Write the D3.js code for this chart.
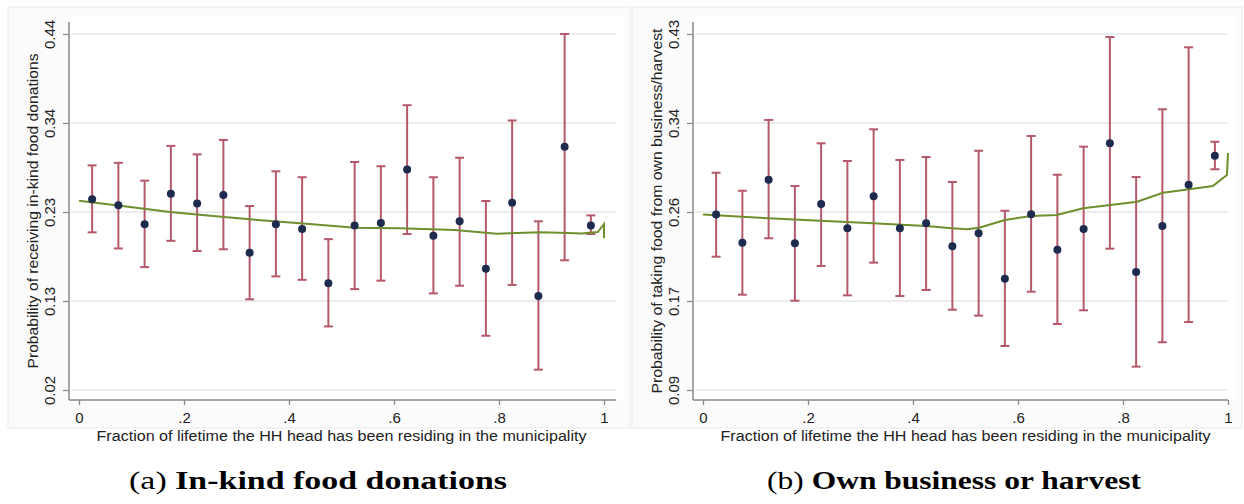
<!DOCTYPE html>
<html>
<head>
<meta charset="utf-8">
<script src="https://cdn.jsdelivr.net/npm/d3@7"></script>
<style>
  body { margin: 0; background: #fff; }
  svg { display: block; }
</style>
</head>
<body>
<div class="svg-container"></div>
<script>
// bin midpoints (fraction of lifetime)
const binMid = [0.025, 0.075, 0.125, 0.175, 0.225, 0.275, 0.325, 0.375, 0.425, 0.475,
  0.525, 0.575, 0.625, 0.675, 0.725, 0.775, 0.825, 0.875, 0.925, 0.975];

// panel (a): in-kind food donations
const leftPoint = [0.245, 0.238, 0.2155, 0.2516, 0.240, 0.250, 0.182, 0.2155, 0.210, 0.146,
  0.214, 0.217, 0.280, 0.202, 0.219, 0.163, 0.241, 0.131, 0.307, 0.214];
const leftUpper = [0.285, 0.288, 0.267, 0.308, 0.298, 0.315, 0.237, 0.278, 0.271, 0.198,
  0.289, 0.284, 0.356, 0.271, 0.294, 0.243, 0.338, 0.219, 0.440, 0.226];
const leftLower = [0.206, 0.187, 0.165, 0.196, 0.184, 0.186, 0.127, 0.154, 0.150, 0.095,
  0.139, 0.149, 0.204, 0.134, 0.143, 0.084, 0.144, 0.044, 0.173, 0.204];
const leftFitX = [0, 0.09, 0.173, 0.25, 0.325, 0.421, 0.526, 0.61, 0.716, 0.796, 0.82, 0.878, 0.916, 0.958, 0.988, 1.0, 1.0];
const leftFitY = [0.2433, 0.2365, 0.230, 0.2255, 0.2214, 0.2167, 0.2115, 0.2108, 0.2088, 0.2044, 0.2049, 0.2061, 0.2056, 0.2047, 0.2064, 0.2158, 0.1993];
const leftYTicks = [0.02, 0.125, 0.23, 0.335, 0.44];
const leftYLabels = ["0.02", "0.13", "0.23", "0.34", "0.44"];

// panel (b): own business or harvest
const rightPoint = [0.2576, 0.2307, 0.2908, 0.2301, 0.2676, 0.2444, 0.275, 0.2444, 0.2492, 0.2272,
  0.2397, 0.1963, 0.2578, 0.224, 0.2438, 0.3256, 0.2027, 0.2466, 0.2861, 0.3138];
const rightUpper = [0.2975, 0.2803, 0.3479, 0.2848, 0.3256, 0.3087, 0.339, 0.3097, 0.3125, 0.2887,
  0.3185, 0.2612, 0.3326, 0.2956, 0.3224, 0.4271, 0.2934, 0.3581, 0.4173, 0.3271];
const rightLower = [0.2173, 0.181, 0.2349, 0.1753, 0.2084, 0.1804, 0.2116, 0.1798, 0.1855, 0.1667,
  0.161, 0.132, 0.1839, 0.153, 0.1661, 0.225, 0.1123, 0.1356, 0.1549, 0.3008];
const rightFitX = [0, 0.125, 0.223, 0.324, 0.425, 0.474, 0.503, 0.526, 0.575, 0.625, 0.674, 0.724, 0.776, 0.827, 0.876, 0.926, 0.971, 0.998, 1.0];
const rightFitY = [0.2576, 0.254, 0.2517, 0.2492, 0.2466, 0.2444, 0.2435, 0.245, 0.2524, 0.2562, 0.2571, 0.2635, 0.2667, 0.2698, 0.2784, 0.2817, 0.2848, 0.2953, 0.3163];
const rightYTicks = [0.09, 0.175, 0.26, 0.345, 0.43];
const rightYLabels = ["0.09", "0.17", "0.26", "0.34", "0.43"];

const xTicks = [0, 0.2, 0.4, 0.6, 0.8, 1];
const xTickLabels = ["0", ".2", ".4", ".6", ".8", "1"];
const xTitle = "Fraction of lifetime the HH head has been residing in the municipality";

const width = 1244;
const height = 504;
const sans = 'Liberation Sans, Arial, sans-serif';

const svg = d3.select('.svg-container')
  .append('svg')
  .attr('width', width)
  .attr('height', height)

function drawPanel(cfg) {
  const g = svg.append('g');

  // outer graph region
  g.append('rect')
    .attr('x', cfg.box[0]).attr('y', 7)
    .attr('width', cfg.box[1] - cfg.box[0]).attr('height', 421)
    .attr('fill', '#fbfbfc')
    .attr('stroke', '#e9e9ec')

  g.append('rect')
    .attr('x', cfg.axisX).attr('y', 16)
    .attr('width', cfg.box[1] - cfg.axisX - 6).attr('height', 384)
    .attr('fill', '#fff')

  const x = d3.scaleLinear().domain([0, 1]).range(cfg.xRange);
  const y = d3.scaleLinear().domain(d3.extent(cfg.yTicks)).range([390, 34]);

  // gridlines
  g.selectAll('.grid')
    .data(cfg.yTicks)
    .enter()
    .append('line')
    .attr('x1', cfg.axisX + 2).attr('x2', cfg.box[1] - 14)
    .attr('y1', d => y(d)).attr('y2', d => y(d))
    .attr('stroke', '#ececec')
    .attr('stroke-width', 2)

  // y axis
  const yAxis = d3.axisLeft(y)
    .tickValues(cfg.yTicks)
    .tickSize(6)
    .tickFormat((d, i) => cfg.yLabels[i]);
  const ya = g.append('g')
    .attr('transform', `translate(${cfg.axisX},0)`)
    .call(yAxis);
  ya.select('.domain').attr('d', `M-0,22V400`).attr('stroke', '#8a8a8a').attr('stroke-width', 1.5);
  ya.selectAll('.tick line').attr('stroke', '#8a8a8a').attr('stroke-width', 1.3);
  ya.selectAll('.tick text')
    .attr('transform', 'rotate(-90)')
    .attr('x', 0).attr('y', -14)
    .attr('dy', 0)
    .attr('text-anchor', 'middle')
    .style('font-family', sans)
    .style('font-size', '15px')
    .attr('fill', '#222');

  // x axis
  const xAxis = d3.axisBottom(x)
    .tickValues(xTicks)
    .tickSize(5)
    .tickFormat((d, i) => xTickLabels[i]);
  const xa = g.append('g')
    .attr('transform', 'translate(0,400)')
    .call(xAxis);
  xa.select('.domain').attr('d', `M${cfg.axisX},0H${cfg.box[1] - 14}`).attr('stroke', '#8a8a8a').attr('stroke-width', 1.5);
  xa.selectAll('.tick line').attr('stroke', '#8a8a8a').attr('stroke-width', 1.3);
  xa.selectAll('.tick text')
    .attr('y', 23).attr('dy', 0)
    .style('font-family', sans)
    .style('font-size', '15px')
    .attr('fill', '#222');

  // axis titles
  g.append('text')
    .attr('x', (cfg.xRange[0] + cfg.xRange[1]) / 2)
    .attr('y', 441)
    .attr('text-anchor', 'middle')
    .attr('textLength', 490)
    .attr('lengthAdjust', 'spacingAndGlyphs')
    .style('font-family', sans)
    .style('font-size', '15.5px')
    .attr('fill', '#222')
    .text(xTitle)

  g.append('text')
    .attr('transform', `translate(${cfg.yTitleX},211) rotate(-90)`)
    .attr('text-anchor', 'middle')
    .attr('textLength', cfg.yTitleLen)
    .attr('lengthAdjust', 'spacingAndGlyphs')
    .style('font-family', sans)
    .style('font-size', '15px')
    .attr('fill', '#222')
    .text(cfg.yTitle)

  // error bars
  const bars = g.selectAll('.bar')
    .data(binMid.map((m, i) => ({ m, lo: cfg.lower[i], hi: cfg.upper[i] })))
    .enter()
    .append('g')
    .attr('stroke', '#b5586a')
    .attr('stroke-width', 2)

  bars.append('line')
    .attr('x1', d => x(d.m)).attr('x2', d => x(d.m))
    .attr('y1', d => y(d.lo)).attr('y2', d => y(d.hi))
  bars.append('line')
    .attr('x1', d => x(d.m) - 4.5).attr('x2', d => x(d.m) + 4.5)
    .attr('y1', d => y(d.lo)).attr('y2', d => y(d.lo))
  bars.append('line')
    .attr('x1', d => x(d.m) - 4.5).attr('x2', d => x(d.m) + 4.5)
    .attr('y1', d => y(d.hi)).attr('y2', d => y(d.hi))

  // fitted line
  const line = d3.line()
    .x(d => x(d[0]))
    .y(d => y(d[1]))
  g.append('path')
    .datum(cfg.fitX.map((v, i) => [v, cfg.fitY[i]]))
    .attr('d', line)
    .attr('fill', 'none')
    .attr('stroke', '#6f8f2f')
    .attr('stroke-width', 2)

  // markers
  g.selectAll('.dot')
    .data(binMid.map((m, i) => [m, cfg.point[i]]))
    .enter()
    .append('circle')
    .attr('cx', d => x(d[0]))
    .attr('cy', d => y(d[1]))
    .attr('r', 4)
    .attr('fill', '#1d2b4f')

  // caption (stretched to the width of the original serif caption)
  const cap = svg.append('text')
    .attr('x', 0)
    .attr('y', 0)
    .attr('text-anchor', 'middle')
    .style('font-family', 'Liberation Serif, Times New Roman, serif')
    .style('font-size', '26px')
    .attr('fill', '#000')
  cap.append('tspan').text(cfg.capLabel + ' ')
  cap.append('tspan').style('font-weight', 'bold').text(cfg.capText)
  const w = cap.node().getComputedTextLength();
  cap.attr('transform', `translate(${cfg.capX},489) scale(${cfg.capWidth / w},1)`)
}

drawPanel({
  box: [8, 630], axisX: 69, xRange: [79, 604], yTitleX: 38, yTitleLen: 315,
  yTicks: leftYTicks, yLabels: leftYLabels,
  point: leftPoint, upper: leftUpper, lower: leftLower,
  fitX: leftFitX, fitY: leftFitY,
  yTitle: 'Probability of receiving in-kind food donations',
  capX: 318, capWidth: 378, capLabel: '(a)', capText: 'In-kind food donations'
});

drawPanel({
  box: [632, 1242], axisX: 693, xRange: [703, 1228], yTitleX: 662, yTitleLen: 365,
  yTicks: rightYTicks, yLabels: rightYLabels,
  point: rightPoint, upper: rightUpper, lower: rightLower,
  fitX: rightFitX, fitY: rightFitY,
  yTitle: 'Probability of taking food from own business/harvest',
  capX: 954, capWidth: 374, capLabel: '(b)', capText: 'Own business or harvest'
});
</script>
</body>
</html>
